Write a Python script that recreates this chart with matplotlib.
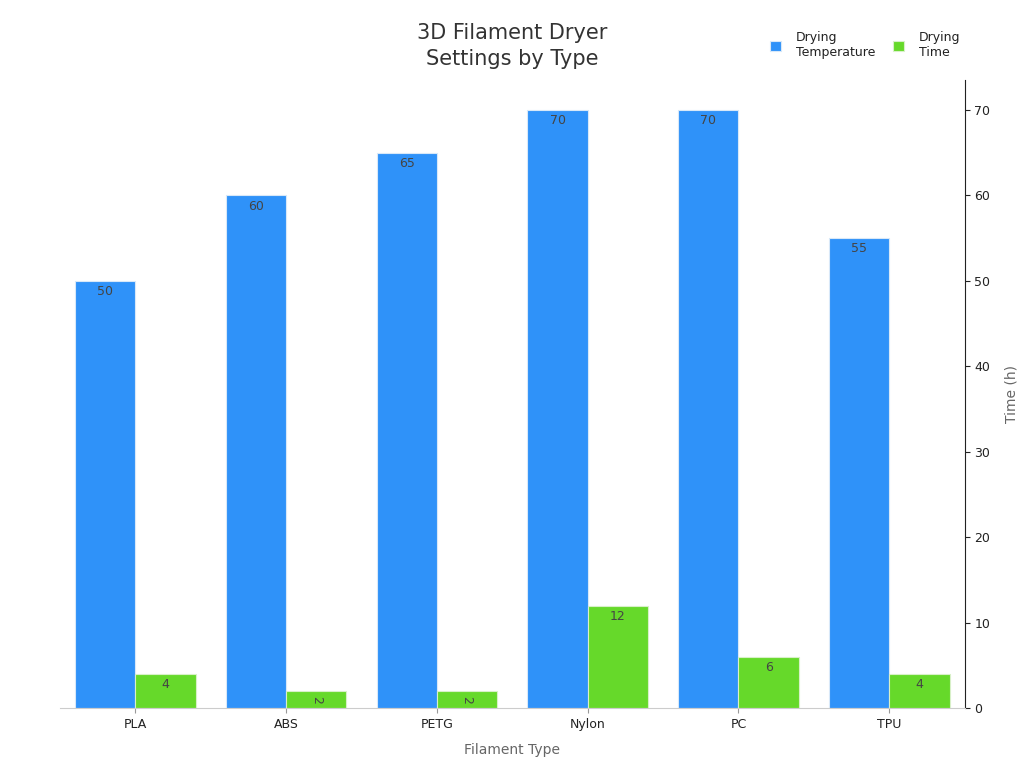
import matplotlib
matplotlib.use("Agg")
import matplotlib.pyplot as plt
import numpy as np

filaments = ["PLA", "ABS", "PETG", "Nylon", "PC", "TPU"]
temperature = [50, 60, 65, 70, 70, 55]
dry_time = [4, 2, 2, 12, 6, 4]

blue = "#2F92F9"
green = "#66D92A"
width = 0.4

fig = plt.figure(figsize=(10.24, 7.68), dpi=100)
ax = fig.add_axes([0.0586, 0.078, 0.8834, 0.818])

x = np.arange(len(filaments))
b1 = ax.bar(x - width / 2, temperature, width, color=blue, edgecolor="#d8e8f8",
            linewidth=0.8, label="Drying\nTemperature")
b2 = ax.bar(x + width / 2, dry_time, width, color=green, edgecolor="#d8f0c8",
            linewidth=0.8, label="Drying\nTime")

# value labels just inside the top of each bar
for bars in (b1, b2):
    for rect in bars:
        h = rect.get_height()
        cx = rect.get_x() + rect.get_width() / 2
        if h < 3:
            ax.text(cx, h / 2, f"{h:g}", ha="center", va="center", rotation=-90,
                    fontsize=9, color="#444444")
        else:
            ax.text(cx, h - 0.5, f"{h:g}", ha="center", va="top",
                    fontsize=9, color="#444444")

ax.set_xlim(-0.5, 5.5)
ax.set_ylim(0, 73.5)
ax.set_xticks(x)
ax.set_xticklabels(filaments, fontsize=9, color="#222222")

ax.yaxis.tick_right()
ax.yaxis.set_label_position("right")
ax.set_yticks(range(0, 71, 10))
ax.tick_params(axis="y", labelsize=9, colors="#222222")
ax.tick_params(axis="x", colors="#999999", labelcolor="#222222")
ax.set_ylabel("Time (h)", fontsize=10, color="#666666", labelpad=10)
ax.set_xlabel("Filament Type", fontsize=10, color="#666666", labelpad=9)

ax.spines["left"].set_visible(False)
ax.spines["top"].set_visible(False)
ax.spines["bottom"].set_color("#cccccc")
ax.spines["right"].set_color("#222222")

fig.text(0.5, 0.94, "3D Filament Dryer\nSettings by Type", ha="center", va="center",
         fontsize=15, color="#333333", linespacing=1.4)

leg = ax.legend(loc="upper right", bbox_to_anchor=(1.008, 1.095), ncol=2, frameon=False,
                fontsize=9, handlelength=0.9, handleheight=0.9, columnspacing=1.4,
                handletextpad=1.2)
for t in leg.get_texts():
    t.set_color("#222222")

fig.savefig("out.png", dpi=100)
